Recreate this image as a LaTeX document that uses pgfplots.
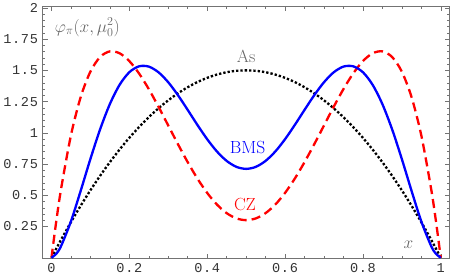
\documentclass[border=0pt]{standalone}
\usepackage{fontspec}
\usepackage{pgfplots}
\pgfplotsset{compat=1.18}
\newfontfamily\monofont[LetterSpace=5]{Liberation Mono}
\newcommand{\lab}{\fontsize{17.5}{20}\selectfont}
\begin{document}
\begin{tikzpicture}
\begin{axis}[
  scale only axis, width=405pt, height=251pt,
  xmin=-0.023, xmax=1.023, ymin=-0.008, ymax=2.012,
  axis line style={black!55, line width=0.6pt},
  tick style={black!55, line width=0.5pt},
  tick align=inside,
  major tick length=5pt, minor tick length=2.5pt,
  xtick={0,0.2,0.4,0.6,0.8,1},
  xticklabels={0,0.2,0.4,0.6,0.8,1},
  ytick={0.25,0.5,0.75,1,1.25,1.5,1.75,2},
  yticklabels={0.25,0.5,0.75,1,1.25,1.5,1.75,2},
  minor x tick num=3, minor y tick num=4,
  ticklabel style={font=\monofont\fontsize{13.5}{14}\selectfont, text=black!80},
  xticklabel style={yshift=-1pt},
  yticklabel style={xshift=-1pt},
  clip=false,
]
\addplot[black, line width=2.3pt, dash pattern=on 2.3pt off 2pt, smooth] coordinates {
(0,0) (0.0125,0.0741) (0.025,0.1463) (0.05,0.285) (0.075,0.4163) (0.1,0.54)
(0.125,0.6563) (0.15,0.765) (0.175,0.8663) (0.2,0.96) (0.225,1.0463) (0.25,1.125)
(0.275,1.1963) (0.3,1.26) (0.325,1.3163) (0.35,1.365) (0.375,1.4063) (0.4,1.44)
(0.425,1.4663) (0.45,1.485) (0.475,1.4963) (0.5,1.5)
(0.525,1.4963) (0.55,1.485) (0.575,1.4663) (0.6,1.44) (0.625,1.4063) (0.65,1.365)
(0.675,1.3163) (0.7,1.26) (0.725,1.1963) (0.75,1.125) (0.775,1.0463) (0.8,0.96)
(0.825,0.8663) (0.85,0.765) (0.875,0.6563) (0.9,0.54) (0.925,0.4163) (0.95,0.285)
(0.975,0.1463) (0.9875,0.0741) (1,0)
};
\addplot[red, line width=2.3pt, dash pattern=on 9pt off 5pt, smooth] coordinates {
(0,0) (0.0125,0.2963) (0.025,0.5570) (0.05,0.9800) (0.075,1.2857) (0.1,1.4898)
(0.125,1.6072) (0.15,1.6519) (0.175,1.6367) (0.2,1.5740) (0.225,1.4749) (0.25,1.3499)
(0.275,1.2082) (0.3,1.0585) (0.325,0.9085) (0.35,0.7648) (0.375,0.6333) (0.4,0.519)
(0.425,0.4258) (0.45,0.3571) (0.475,0.315) (0.5,0.3008)
(0.525,0.315) (0.55,0.3571) (0.575,0.4258) (0.6,0.519) (0.625,0.6333) (0.65,0.7648)
(0.675,0.9085) (0.7,1.0585) (0.725,1.2082) (0.75,1.3499) (0.775,1.4749) (0.8,1.5740)
(0.825,1.6367) (0.85,1.6519) (0.875,1.6072) (0.9,1.4898) (0.925,1.2857) (0.95,0.9800)
(0.975,0.5570) (0.9875,0.2963) (1,0)
};
\addplot[blue, line width=2.3pt, smooth] coordinates {
(0,0) (0.0125,0.0321) (0.025,0.0961) (0.05,0.2913) (0.075,0.5355) (0.1,0.7906)
(0.125,1.0285) (0.15,1.2303) (0.175,1.3843) (0.2,1.4851) (0.225,1.5323) (0.25,1.53)
(0.275,1.4844) (0.3,1.4047) (0.325,1.3007) (0.35,1.1832) (0.375,1.0626) (0.4,0.949)
(0.425,0.8506) (0.45,0.7752) (0.475,0.7276) (0.5,0.7114)
(0.525,0.7276) (0.55,0.7752) (0.575,0.8506) (0.6,0.949) (0.625,1.0626) (0.65,1.1832)
(0.675,1.3007) (0.7,1.4047) (0.725,1.4844) (0.75,1.53) (0.775,1.5323) (0.8,1.4851)
(0.825,1.3843) (0.85,1.2303) (0.875,1.0285) (0.9,0.7906) (0.925,0.5355) (0.95,0.2913)
(0.975,0.0961) (0.9875,0.0321) (1,0)
};
\node[text=black!60, font=\lab] at (axis cs:0.5,1.61) {As};
\node[text=blue, font=\lab] at (axis cs:0.504,0.885) {BMS};
\node[text=red, font=\lab] at (axis cs:0.497,0.43) {CZ};
\node[text=black!60, font=\lab] at (axis cs:0.917,0.1) {$x$};
\node[text=black!60, font=\lab] at (axis cs:0.092,1.845) {$\varphi_\pi(x,\mu_0^2)$};
\end{axis}
\end{tikzpicture}
\end{document}
